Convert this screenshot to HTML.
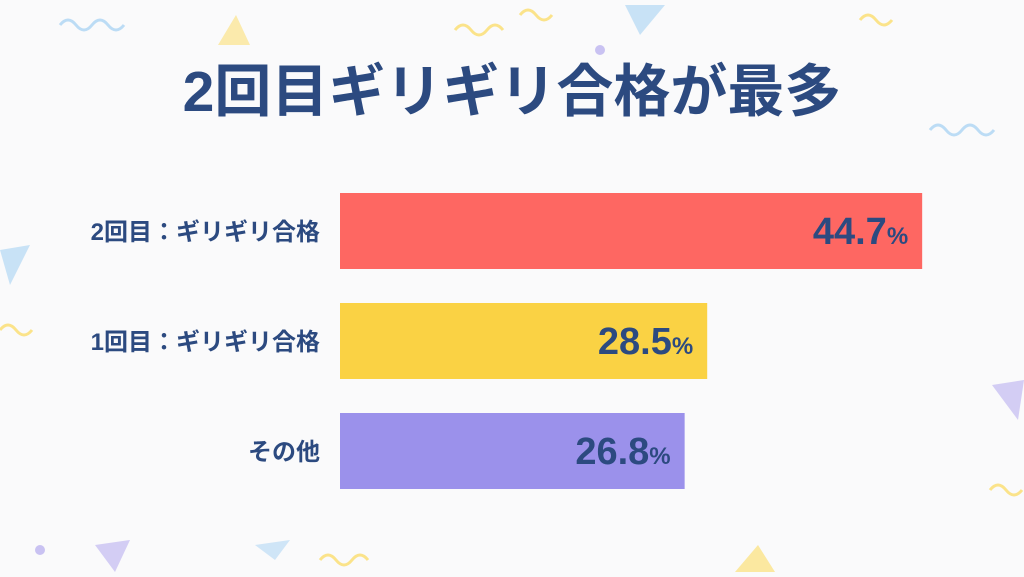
<!DOCTYPE html>
<html><head><meta charset="utf-8"><style>
html,body{margin:0;padding:0;}
body{width:1024px;height:572px;overflow:hidden;background:#fafafb;font-family:"Liberation Sans","Noto Sans CJK JP",sans-serif;}
svg text{font-family:"Liberation Sans","Noto Sans CJK JP",sans-serif;}
</style></head><body>
<svg id="chart" width="1024" height="572" viewBox="0 0 1024 572" xmlns="http://www.w3.org/2000/svg">
<g>
<polygon points="218,45 250,45 236,15" fill="#fbe38a" opacity="0.7"/>
<polygon points="625,5 665,5 640,35" fill="#bcdcf5" opacity="0.8"/>
<polygon points="0,250 30,245 10,285" fill="#bcdcf5" opacity="0.8"/>
<polygon points="992,385 1024,380 1018,420" fill="#c9c2f2" opacity="0.8"/>
<polygon points="95,545 130,540 115,572" fill="#c9c2f2" opacity="0.8"/>
<polygon points="735,572 775,572 758,545" fill="#fbe38a" opacity="0.8"/>
<polygon points="255,545 290,540 275,560" fill="#bcdcf5" opacity="0.7"/>
<path d="M455,30 q8,-10 16,0 t16,0 t16,0" stroke="#fbe38a" stroke-width="3" fill="none"/>
<path d="M520,15 q8,-10 16,0 t16,0" stroke="#fbe38a" stroke-width="3" fill="none"/>
<path d="M60,25 q8,-10 16,0 t16,0 t16,0 t16,0" stroke="#bcdcf5" stroke-width="3" fill="none"/>
<path d="M930,130 q8,-10 16,0 t16,0 t16,0 t16,0" stroke="#bcdcf5" stroke-width="3" fill="none"/>
<path d="M0,330 q8,-10 16,0 t16,0" stroke="#fbe38a" stroke-width="3" fill="none"/>
<path d="M990,490 q8,-10 16,0 t16,0" stroke="#fbe38a" stroke-width="3" fill="none"/>
<path d="M320,560 q8,-10 16,0 t16,0 t16,0" stroke="#fbe38a" stroke-width="3" fill="none"/>
<path d="M860,20 q8,-10 16,0 t16,0" stroke="#fbe38a" stroke-width="3" fill="none"/>
<circle cx="40" cy="550" r="5" fill="#c9c2f2"/>
<circle cx="600" cy="50" r="5" fill="#c9c2f2"/>
</g>
<text x="512" y="111" text-anchor="middle" font-size="57" font-weight="bold" fill="#2c4a80">2回目ギリギリ合格が最多</text>
<g id="bars"></g>
</svg>
<script>
const categories = ["2回目：ギリギリ合格", "1回目：ギリギリ合格", "その他"];
const values = [44.7, 28.5, 26.8];
const valueLabels = ["44.7", "28.5", "26.8"];
const colors = ["#fe6762", "#fad244", "#9b91eb"];
const NS = "http://www.w3.org/2000/svg";
const x0 = 340, pxPerUnit = 13.27, offset = -11;
function xScale(v){ return x0 + offset + v * pxPerUnit; }
function yScale(i){ return 193 + i * 110; }
const g = document.getElementById("bars");
categories.forEach((c, i) => {
  const y = yScale(i), h = 76, xe = xScale(values[i]);
  const r = document.createElementNS(NS, "rect");
  
  
  r.setAttribute("x", x0); r.setAttribute("y", y);
  r.setAttribute("width", Math.max(0, xe - x0)); r.setAttribute("height", h);
  r.setAttribute("fill", colors[i]);
  g.appendChild(r);
  const l = document.createElementNS(NS, "text");
  
  
  l.setAttribute("x", 320); l.setAttribute("y", y + h / 2 + 9);
  l.setAttribute("text-anchor", "end"); l.setAttribute("font-size", "24");
  l.setAttribute("font-weight", "bold"); l.setAttribute("fill", "#2c4a80");
  l.textContent = c;
  g.appendChild(l);
  const t = document.createElementNS(NS, "text");
  
  
  t.setAttribute("x", xe - 14); t.setAttribute("y", y + h / 2 + 13);
  t.setAttribute("text-anchor", "end"); t.setAttribute("fill", "#2c4a80");
  t.setAttribute("font-weight", "bold"); t.setAttribute("font-size", "38");
  const s1 = document.createElementNS(NS, "tspan"); s1.textContent = valueLabels[i];
  const s2 = document.createElementNS(NS, "tspan"); s2.setAttribute("font-size", "24"); s2.textContent = "%";
  t.appendChild(s1); t.appendChild(s2);
  g.appendChild(t);
});
</script>
</body></html>
